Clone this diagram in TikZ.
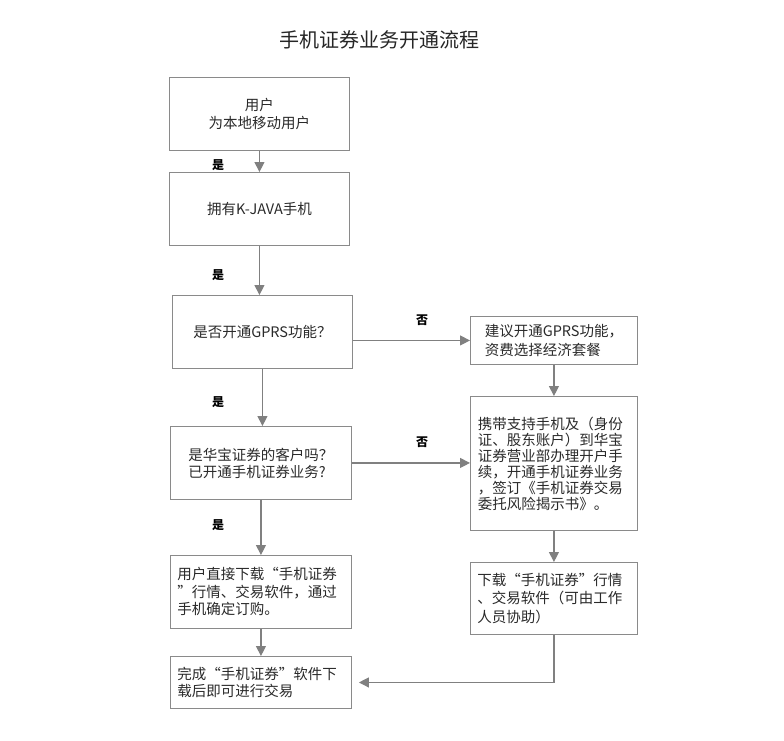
\documentclass[tikz,border=0pt]{standalone}
\usepackage{fontspec}
\setmainfont{Noto Sans CJK SC}
\usetikzlibrary{arrows.meta}
\definecolor{linegray}{HTML}{808080}
\definecolor{boxgray}{HTML}{8A8A8A}
\definecolor{txtgray}{HTML}{2A2A2A}
\newcommand{\fwq}[1]{{\addfontfeature{RawFeature=+fwid}#1}}
\begin{document}
\begin{tikzpicture}[x=1pt,y=-1pt,
  box/.style={draw=boxgray, line width=0.9pt, fill=white, text=txtgray,
    font=\fontsize{14.5}{17.5}\selectfont, inner sep=0pt, anchor=north west},
  arr/.style={draw=linegray, line width=1.2pt,
    -{Triangle[width=10pt,length=10pt,fill=linegray]}},
  lab/.style={font=\fontsize{12}{12}\selectfont\bfseries, text=black, inner sep=0pt}
]
\useasboundingbox[fill=white] (0,0) rectangle (784,741);

\node[font=\fontsize{20}{20}\selectfont, text=black!85] (title) at (379,40) {手机证券业务开通流程};

\node[box, minimum width=180pt, minimum height=73pt, align=center] (A) at (169,77)
  {用户\\为本地移动用户};
\node[box, minimum width=180pt, minimum height=73pt, align=center] (B) at (169,172)
  {拥有K-JAVA手机};
\node[box, minimum width=180pt, minimum height=73pt, align=center] (C) at (172,295)
  {是否开通GPRS功能？};
\node[box, minimum width=181pt, minimum height=73pt, align=left,
  font=\fontsize{14.5}{17}\selectfont] (D) at (170,426)
  {是华宝证券的客户吗？\\已开通手机证券业务?};
\node[box, minimum width=181pt, minimum height=73pt, text width=167pt, inner xsep=7pt, align=left] (E) at (170,555)
  {用户直接下载\fwq{“}手机证券\\\fwq{”}行情、交易软件，通过\\手机确定订购。};
\node[box, minimum width=181pt, minimum height=52pt, text width=167pt, inner xsep=7pt, align=left,
  font=\fontsize{14.5}{16.5}\selectfont] (F) at (170,656)
  {完成\fwq{“}手机证券\fwq{”}软件下\\载后即可进行交易};

\node[box, minimum width=167pt, minimum height=48pt, align=left,
  font=\fontsize{14.5}{19}\selectfont] (G) at (470,316)
  {建议开通GPRS功能，\\资费选择经济套餐};
\node[box, minimum width=167pt, minimum height=134pt, text width=152pt, inner xsep=7.5pt, align=left,
  font=\fontsize{14.5}{16}\selectfont] (H) at (470,396)
  {携带支持手机及（身份\\证、股东账户）到华宝\\证券营业部办理开户手\\续，开通手机证券业务\\，签订《手机证券交易\\委托风险揭示书》。};
\node[box, minimum width=167pt, minimum height=72pt, text width=153pt, inner xsep=7pt, align=left,
  font=\fontsize{14.5}{18.5}\selectfont] (I) at (470,562)
  {下载\fwq{“}手机证券\fwq{”}行情\\、交易软件（可由工作\\人员协助）};

\draw[arr] (A.south) -- (A.south |- B.north);
\draw[arr] (B.south) -- (B.south |- C.north);
\draw[arr] (C.south) -- (C.south |- D.north);
\draw[arr] (D.south) -- (D.south |- E.north);
\draw[arr] (E.south) -- (E.south |- F.north);
\draw[arr] (G.west -| C.east) -- (G.west);
\draw[arr] (D.east) -- (D.east -| H.west);
\draw[arr] (G.south) -- (G.south |- H.north);
\draw[arr] (H.south) -- (H.south |- I.north);
\draw[arr, shorten >=7pt] (I.south) |- (F.east);

\node[lab] (l1) at (218,165) {是};
\node[lab] (l2) at (218,275) {是};
\node[lab] (l3) at (218,402) {是};
\node[lab] (l4) at (218,525) {是};
\node[lab] (n1) at (422,320) {否};
\node[lab] (n2) at (422,442) {否};
\end{tikzpicture}
\end{document}
